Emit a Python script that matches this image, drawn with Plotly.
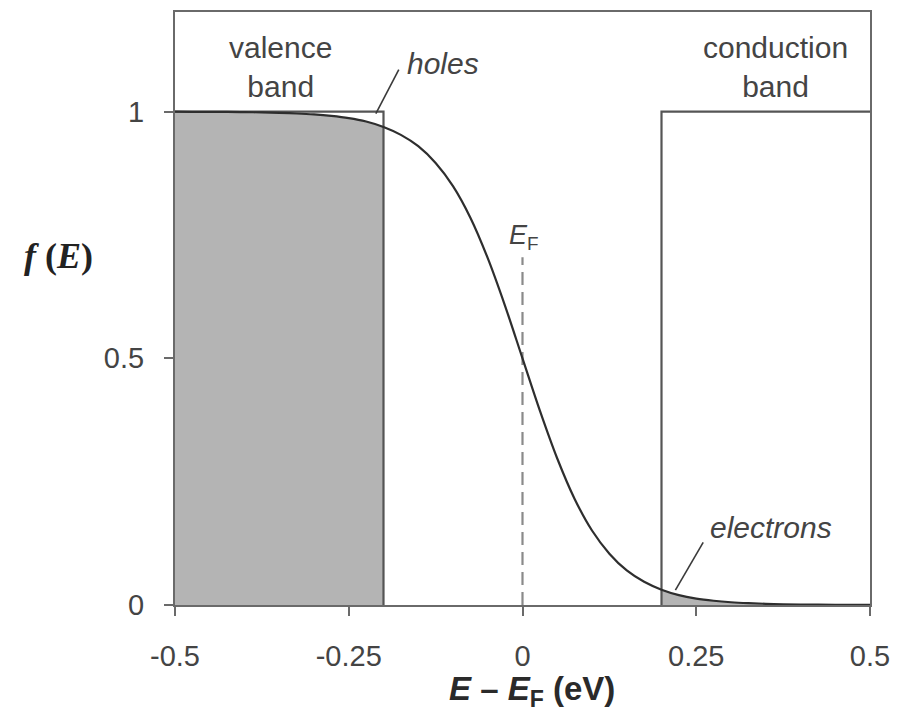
import plotly.graph_objects as go

# Energy relative to Fermi level (eV) and occupation f(E)
energy = [-0.5, -0.475, -0.45, -0.425, -0.4, -0.375, -0.35, -0.325, -0.3, -0.275,
          -0.25, -0.225, -0.2, -0.175, -0.15, -0.125, -0.1, -0.075, -0.05, -0.025,
          0.0, 0.025, 0.05, 0.075, 0.1, 0.125, 0.15, 0.175, 0.2, 0.225,
          0.25, 0.275, 0.3, 0.325, 0.35, 0.375, 0.4, 0.425, 0.45, 0.475, 0.5]
occupation = [1.000, 0.9997, 0.9996, 0.9994, 0.999, 0.9985, 0.9976, 0.9963, 0.9944, 0.9914,
              0.987, 0.980, 0.969, 0.953, 0.930, 0.896, 0.849, 0.785, 0.703, 0.606,
              0.500, 0.394, 0.297, 0.215, 0.151, 0.104, 0.070, 0.047, 0.031, 0.020,
              0.013, 0.0086, 0.0056, 0.0037, 0.0024, 0.0015, 0.001, 0.0006, 0.0004, 0.0003, 0.0002]

valence_top = -0.2
conduction_bottom = 0.2
band_height = 1.0
fermi_line_top = 0.705

x_ticks = [-0.5, -0.25, 0, 0.25, 0.5]
x_tick_text = ["-0.5", "-0.25", "0", "0.25", "0.5"]
y_ticks = [0, 0.5, 1]
y_tick_text = ["0", "0.5", "1"]

FONT = "Liberation Sans, Arial, sans-serif"
TXT = "#444444"
LINE = "#555555"
FILLC = "#b4b4b4"

fig = go.Figure()

# valence band filled area (under curve)
vx = [e for e in energy if e <= valence_top]
vy = [f for e, f in zip(energy, occupation) if e <= valence_top]
fig.add_trace(go.Scatter(x=[vx[0]] + vx + [vx[-1]], y=[0] + vy + [0], fill="toself",
                         fillcolor=FILLC, line=dict(width=0), mode="lines", hoverinfo="skip"))
# conduction band filled area (under curve)
cx = [e for e in energy if e >= conduction_bottom]
cy = [f for e, f in zip(energy, occupation) if e >= conduction_bottom]
fig.add_trace(go.Scatter(x=[cx[0]] + cx + [cx[-1]], y=[0] + cy + [0], fill="toself",
                         fillcolor=FILLC, line=dict(width=0), mode="lines", hoverinfo="skip"))

# band outlines
fig.add_trace(go.Scatter(x=[energy[0], valence_top, valence_top], y=[band_height, band_height, 0],
                         mode="lines", line=dict(color=LINE, width=2.2)))
fig.add_trace(go.Scatter(x=[conduction_bottom, conduction_bottom, energy[-1]], y=[0, band_height, band_height],
                         mode="lines", line=dict(color=LINE, width=2.2)))

# Fermi level dashed line
fig.add_trace(go.Scatter(x=[0, 0], y=[0, fermi_line_top], mode="lines",
                         line=dict(color="#8a8a8a", width=2.2, dash="13px,7px")))

# Fermi-Dirac curve
fig.add_trace(go.Scatter(x=energy, y=occupation, mode="lines", line_shape="spline",
                         line=dict(color="#2e2e2e", width=2.2)))

# leader lines
fig.add_trace(go.Scatter(x=[-0.178, -0.211], y=[1.085, 0.996], mode="lines",
                         line=dict(color="#3a3a3a", width=1.6)))
fig.add_trace(go.Scatter(x=[0.26, 0.22], y=[0.127, 0.030], mode="lines",
                         line=dict(color="#3a3a3a", width=1.6)))

ann = dict(showarrow=False, xanchor="center", yanchor="middle",
           font=dict(family=FONT, size=30, color=TXT))
fig.add_annotation(x=-0.348, y=1.091, text="valence<br>band", **ann)
fig.add_annotation(x=0.364, y=1.091, text="conduction<br>band", **ann)
fig.add_annotation(x=-0.115, y=1.097, text="<i>holes</i>", **ann)
fig.add_annotation(x=0.357, y=0.158, text="<i>electrons</i>", **ann)
fig.add_annotation(x=0.002, y=0.745, text="<i>E</i><sub>F</sub>",
                   showarrow=False, xanchor="center", yanchor="middle",
                   font=dict(family=FONT, size=27, color=TXT))

fig.add_annotation(xref="paper", yref="paper", x=0.513, y=-0.145, showarrow=False,
                   xanchor="center", yanchor="middle",
                   text="<b><i>E</i> – <i>E</i><sub>F</sub> (eV)</b>",
                   font=dict(family=FONT, size=33, color="#2a2a2a"))
fig.add_annotation(xref="paper", yref="paper", x=-0.168, y=0.588, showarrow=False,
                   xanchor="center", yanchor="middle",
                   text="<b><i>f</i> (<i>E</i>)</b>",
                   font=dict(family="Liberation Serif, Times New Roman, serif", size=36, color="#222222"))

fig.update_layout(
    width=893, height=708,
    margin=dict(l=167, r=31, t=2, b=111),
    paper_bgcolor="white", plot_bgcolor="white",
    showlegend=False,
    xaxis=dict(range=[-0.5, 0.5], tickvals=x_ticks, ticktext=x_tick_text,
               showgrid=False, zeroline=False, showline=True, mirror=True,
               linecolor="#6a6a6a", linewidth=2, ticks="outside", ticklen=9,
               tickcolor="#6a6a6a", tickwidth=2, ticklabelstandoff=15,
               tickfont=dict(family=FONT, size=29, color=TXT)),
    yaxis=dict(range=[0, 1.202], tickvals=y_ticks, ticktext=y_tick_text,
               showgrid=False, zeroline=False, showline=True, mirror=True,
               linecolor="#6a6a6a", linewidth=2, ticks="outside", ticklen=9,
               tickcolor="#6a6a6a", tickwidth=2, ticklabelstandoff=14,
               tickfont=dict(family=FONT, size=29, color=TXT)),
)

fig.write_html("out.html")
